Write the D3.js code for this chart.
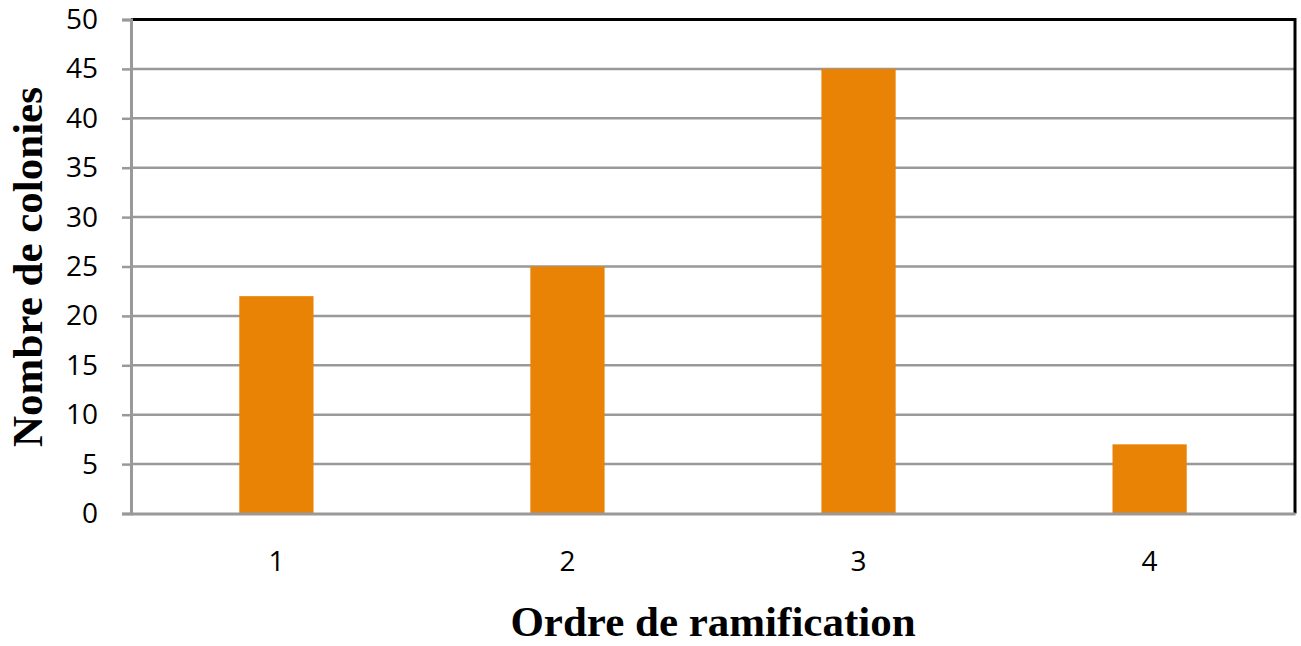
<!DOCTYPE html>
<html>
<head>
<meta charset="utf-8">
<script src="https://cdn.jsdelivr.net/npm/d3@7"></script>
<style>
  html, body { margin: 0; padding: 0; background: #fff; }
  svg { display: block; }
</style>
</head>
<body>
<svg id="chart" width="1301" height="646"></svg>
<script>
// Branching order vs number of colonies
const categories = ["1", "2", "3", "4"];
const values = [22, 25, 45, 7];
const yTicks = [0, 5, 10, 15, 20, 25, 30, 35, 40, 45, 50];

const svg = d3.select("#chart");
const margin = { left: 131, right: 6, top: 19.5, bottom: 132.5 };
const W = 1301, H = 646;
const x0 = margin.left, x1 = W - margin.right;
const y0 = H - margin.bottom, y1 = margin.top;

const x = d3.scaleBand().domain(categories).range([x0, x1]).paddingInner(0.745).paddingOuter(0.372);
const y = d3.scaleLinear().domain([0, 50]).range([y0, y1]);

// horizontal gridlines
svg.append("g").selectAll("line").data(yTicks.filter(d => d > 0 && d < 50)).join("line")
  .attr("x1", x0).attr("x2", x1)
  .attr("y1", d => y(d)).attr("y2", d => y(d))
  .attr("stroke", "#999").attr("stroke-width", 2.5);

// bars
svg.append("g").selectAll("rect").data(values).join("rect")
  .attr("x", (d, i) => x(categories[i]))
  .attr("width", x.bandwidth())
  .attr("y", d => y(d))
  .attr("height", d => y(0) - y(d))
  .attr("fill", "#E98305");

// plot frame: black on top and right
svg.append("path")
  .attr("d", `M${x0},${y1}H${x1}V${y0}`)
  .attr("fill", "none").attr("stroke", "#000").attr("stroke-width", 3);

// y axis
const yAxis = d3.axisLeft(y).tickValues(yTicks).tickSize(9).tickPadding(24);
const gy = svg.append("g").attr("transform", `translate(${x0},0)`).call(yAxis);
gy.select(".domain").attr("stroke", "#999").attr("stroke-width", 3);
gy.selectAll(".tick line").attr("stroke", "#999").attr("stroke-width", 2.5);
gy.selectAll(".tick text")
  .attr("font-family", "'Open Sans', sans-serif").attr("font-size", 28).attr("fill", "#000");

// x axis
const xAxis = d3.axisBottom(x).tickSize(0).tickPadding(38);
const gx = svg.append("g").attr("transform", `translate(0,${y0})`).call(xAxis);
gx.select(".domain").attr("stroke", "#999").attr("stroke-width", 3);
gx.selectAll(".tick text")
  .attr("font-family", "'Open Sans', sans-serif").attr("font-size", 28).attr("fill", "#000");

// axis titles
svg.append("text")
  .attr("x", 713).attr("y", 636)
  .attr("text-anchor", "middle")
  .attr("font-family", "'Liberation Serif', 'Times New Roman', serif")
  .attr("font-weight", "bold").attr("font-size", 43)
  .text("Ordre de ramification");

svg.append("text")
  .attr("transform", "translate(42,267) rotate(-90)")
  .attr("text-anchor", "middle")
  .attr("font-family", "'Liberation Serif', 'Times New Roman', serif")
  .attr("font-weight", "bold").attr("font-size", 43)
  .text("Nombre de colonies");
</script>
</body>
</html>
